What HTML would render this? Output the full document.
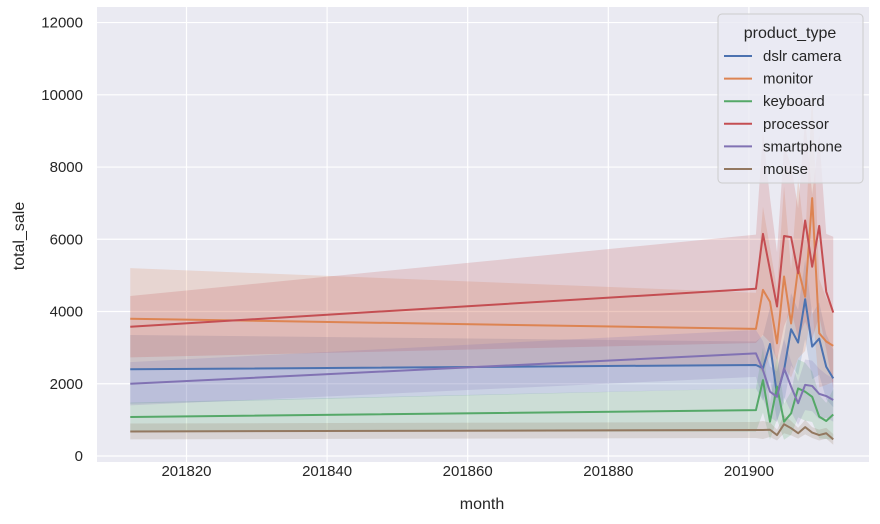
<!DOCTYPE html>
<html><head><meta charset="utf-8">
<style>
html,body{margin:0;padding:0;background:#fff;}
svg{display:block;font-family:"Liberation Sans","DejaVu Sans",sans-serif;}
</style></head>
<body>
<svg id="chart" width="880" height="524" viewBox="0 0 880 524" xmlns="http://www.w3.org/2000/svg">
<rect x="97" y="7" width="772" height="455" fill="#eaeaf2"/>
<g id="grid"></g>
<g id="bands"></g>
<g id="lines"></g>
<g id="ticks"></g>
<text x="482" y="509" font-size="16" fill="#262626" text-anchor="middle">month</text>
<text transform="translate(24,236) rotate(-90)" font-size="16" fill="#262626" text-anchor="middle">total_sale</text>
<g id="legend"></g>
</svg>
<script>
const months = [201812,201901,201902,201903,201904,201905,201906,201907,201908,201909,201910,201911,201912];
const seriesNames = ["dslr camera","monitor","keyboard","processor","smartphone","mouse"];
const seriesColors = ["#4c72b0","#dd8452","#55a868","#c44e52","#8172b3","#937860"];
const dslrValues = [2400,2520,2430,3100,1690,2380,3510,3140,4340,3030,3250,2470,2150];
const monitorValues = [3800,3520,4600,4270,3120,4970,3670,5200,4410,7140,3400,3170,3050];
const keyboardValues = [1080,1270,2100,950,1920,950,1180,1870,1780,1640,1090,970,1150];
const processorValues = [3580,4630,6150,5150,4140,6090,6060,5060,6520,5240,6370,4550,3970];
const smartphoneValues = [2000,2840,2380,1780,1640,2430,1920,1460,1970,1940,1720,1660,1550];
const mouseValues = [680,720,720,727,580,880,770,630,800,650,580,630,460];
const dslrCI = [950,650,900,1000,700,900,1000,900,1100,900,1000,900,800];
const monitorCI = [1400,1000,2300,1500,1500,2500,1500,2500,1500,3000,1500,1200,1000];
const keyboardCI = [400,600,900,500,900,500,600,800,800,700,600,500,700];
const processorCI = [850,1500,2800,2000,1500,2500,2000,1800,2800,2000,2500,1600,2100];
const smartphoneCI = [600,650,800,700,700,800,700,600,700,700,700,600,600];
const mouseCI = [220,220,250,200,150,250,200,150,200,150,150,150,150];
const xTicks = [201820,201840,201860,201880,201900];
const yTicks = [0,2000,4000,6000,8000,10000,12000];

const allValues=[dslrValues,monitorValues,keyboardValues,processorValues,smartphoneValues,mouseValues];
const allCI=[dslrCI,monitorCI,keyboardCI,processorCI,smartphoneCI,mouseCI];
const NS="http://www.w3.org/2000/svg";
function X(m){return 186.5+(m-201820)*7.03;}
function Y(v){return 456-v*0.03612;}
function mk(tag,attrs,parent){const e=document.createElementNS(NS,tag);for(const k in attrs)e.setAttribute(k,attrs[k]);parent.appendChild(e);return e;}
const grid=document.getElementById('grid'),ticks=document.getElementById('ticks');
xTicks.forEach(t=>{
  const l=mk('line',{x1:X(t),x2:X(t),y1:7,y2:462,stroke:'#fff','stroke-width':1.2},grid);
  
  
  const tx=mk('text',{x:X(t),y:476,'font-size':15,fill:'#262626','text-anchor':'middle'},ticks);
  tx.textContent=t;
  
  
});
yTicks.forEach(t=>{
  const l=mk('line',{x1:97,x2:869,y1:Y(t),y2:Y(t),stroke:'#fff','stroke-width':1.2},grid);
  
  
  const tx=mk('text',{x:83,y:Y(t)+5,'font-size':15,fill:'#262626','text-anchor':'end'},ticks);
  tx.textContent=t;
  
  
});
const bands=document.getElementById('bands'),lines=document.getElementById('lines');
allValues.forEach((vals,i)=>{
  const ci=allCI[i];
  let up=months.map((m,j)=>X(m)+','+Y(vals[j]+ci[j]));
  let lo=months.map((m,j)=>X(m)+','+Y(Math.max(0,vals[j]-ci[j]))).reverse();
  const b=mk('polygon',{points:up.concat(lo).join(' '),fill:seriesColors[i],'fill-opacity':0.2,stroke:'none'},bands);
  
  
  const p=mk('polyline',{points:months.map((m,j)=>X(m)+','+Y(vals[j])).join(' '),fill:'none',stroke:seriesColors[i],'stroke-width':2,'stroke-linejoin':'round'},lines);
  
  
});
const lg=document.getElementById('legend');
const box=mk('rect',{x:718,y:14,width:145,height:169,rx:4,fill:'#eaeaf2','fill-opacity':0.8,stroke:'#cccccc'},lg);


const tt=mk('text',{x:790,y:38,'font-size':16,fill:'#262626','text-anchor':'middle'},lg);
tt.textContent='product_type';


seriesNames.forEach((n,i)=>{
  const y=56+i*22.6;
  const l=mk('line',{x1:724,x2:752,y1:y,y2:y,stroke:seriesColors[i],'stroke-width':2},lg);
  
  
  const t=mk('text',{x:763,y:y+5,'font-size':15,fill:'#262626'},lg);
  t.textContent=n;
  
  
});
</script>
</body></html>
